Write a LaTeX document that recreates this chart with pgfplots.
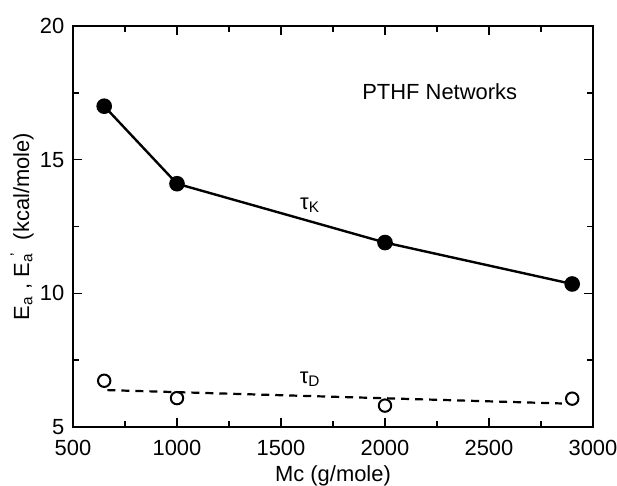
\documentclass[border=0pt]{standalone}
\usepackage{fontspec}
\setmainfont{Liberation Sans}
\usepackage{pgfplots}
\pgfplotsset{compat=1.18}
\begin{document}
\begin{tikzpicture}[font=\fontsize{11}{13}\selectfont]
\begin{axis}[
  scale only axis, width=260bp, height=200.5bp,
  xmin=500, xmax=3000, ymin=5, ymax=20,
  xtick={500,1000,1500,2000,2500,3000},
  ytick={5,10,15,20},
  minor x tick num=1, minor y tick num=1,
  tick align=inside,
  major tick length=4.5bp, minor tick length=3bp,
  axis line style={line width=1.2bp},
  every tick/.append style={line width=0.8bp, black},
  /pgf/number format/assume math mode=true,
  /pgf/number format/1000 sep={},
  xticklabel style={anchor=base, yshift=-14.3bp},
  yticklabel style={xshift=-0.8bp},
  xlabel={Mc (g/mole)},
  ylabel={E\textsubscript{a} , E\textsubscript{a}\kern-0.15em\textsuperscript{'}\ \ (kcal/mole)},
  every axis x label/.style={at={(axis description cs:0.5,-0.1347)}, anchor=base},
  every axis y label/.style={at={(axis description cs:-0.0846,0.5)}, rotate=90, anchor=base},
  clip=false,
]
\addplot[black, line width=1.2bp, mark=*, mark size=3.3bp, mark options={solid}] coordinates {(650,17.0)(1000,14.1)(2000,11.9)(2900,10.35)};
\addplot[black, only marks, mark=o, mark size=3.1bp, mark options={line width=1bp}] coordinates {(650,6.73)(1000,6.08)(2000,5.8)(2900,6.06)};
\addplot[black, line width=1.1bp, dash pattern=on 4bp off 3bp] coordinates {(665,6.38)(2850,5.88)};
\node at (axis cs:2263,17.55) {PTHF Networks};
\node at (axis cs:1640,13.3) {τ\textsubscript{K}};
\node at (axis cs:1640,6.8) {τ\textsubscript{D}};
\end{axis}
\pgfresetboundingbox
\path[use as bounding box] ([shift={(-36.5bp,-29.5bp)}]current axis.south west) rectangle ([shift={(12bp,13bp)}]current axis.north east);
\end{tikzpicture}
\end{document}
